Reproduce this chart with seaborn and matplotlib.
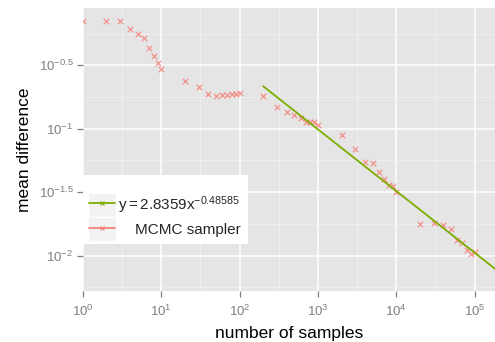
import numpy as np
import pandas as pd
import matplotlib
matplotlib.use("Agg")
import matplotlib.pyplot as plt
import seaborn as sns
from matplotlib.lines import Line2D
from matplotlib.patches import Rectangle
from matplotlib.legend_handler import HandlerLine2D
from matplotlib.ticker import FixedLocator, FixedFormatter

# ---- data ----
n_samples = [1, 2, 3, 4, 5, 6, 7, 8, 9,
             10, 20, 30, 40, 50, 60, 70, 80, 90,
             100, 200, 300, 400, 500, 600, 700, 800, 900,
             1000, 2000, 3000, 4000, 5000, 6000, 7000, 8000, 9000,
             10000, 20000, 30000, 40000, 50000, 60000, 70000, 80000, 90000,
             100000]
mean_diff = [0.7015, 0.7015, 0.7015, 0.6067, 0.5546, 0.5164, 0.4305, 0.3724, 0.3296,
             0.2944, 0.2377, 0.2123, 0.1871, 0.1803, 0.1837, 0.1837, 0.1871, 0.1871,
             0.1905, 0.1803, 0.1476, 0.1349, 0.1276, 0.1211, 0.1138, 0.1132, 0.1132,
             0.1064, 0.0889, 0.0690, 0.0544, 0.0535, 0.0454, 0.0405, 0.0359, 0.0356,
             0.0316, 0.0177, 0.0182, 0.0176, 0.0162, 0.0132, 0.0125, 0.0110, 0.0103,
             0.0106]
fit_a = 2.8359
fit_b = -0.48585
fit_x = [200, 1000, 10000, 100000, 1000000]
fit_y = [fit_a * v ** fit_b for v in fit_x]

x_ticks = [1, 10, 100, 1000, 10000, 100000]
x_labels = [r"$\mathregular{10^{0}}$", r"$\mathregular{10^{1}}$", r"$\mathregular{10^{2}}$",
            r"$\mathregular{10^{3}}$", r"$\mathregular{10^{4}}$", r"$\mathregular{10^{5}}$"]
y_ticks = [10 ** -0.5, 10 ** -1, 10 ** -1.5, 10 ** -2]
y_labels = [r"$\mathregular{10^{-0.5}}$", r"$\mathregular{10^{-1}}$",
            r"$\mathregular{10^{-1.5}}$", r"$\mathregular{10^{-2}}$"]
fit_label = r"$\mathregular{y = 2.8359x^{-0.48585}}$"
mcmc_label = "    MCMC sampler"

pts = pd.DataFrame({"n": n_samples, "d": mean_diff})
fit = pd.DataFrame({"n": fit_x, "d": fit_y})

# ---- style ----
sns.set_theme(style="darkgrid", rc={
    "axes.facecolor": "#E5E5E5",
    "grid.color": "white",
})
plt.rcParams["font.family"] = ["Liberation Sans", "DejaVu Sans"]
plt.rcParams["mathtext.fontset"] = "custom"
plt.rcParams["mathtext.rm"] = "Liberation Sans"
plt.rcParams["mathtext.it"] = "Liberation Sans:italic"

fig = plt.figure(figsize=(4.95, 3.42), dpi=100)
ax = fig.add_axes([82.5 / 495, 1 - 291 / 342, 1 - 82.5 / 495, 283 / 342])

PINK = "#F8766D"
GREEN = "#7CAE00"

sns.scatterplot(data=pts, x="n", y="d", marker="x", color=PINK, s=16,
                linewidth=0.9, alpha=0.75, ax=ax, legend=False, zorder=3, clip_on=True)
sns.lineplot(data=fit, x="n", y="d", color=GREEN, linewidth=1.3, ax=ax,
             legend=False, zorder=4)

ax.set_xscale("log")
ax.set_yscale("log")
ax.set_xlim(10 ** -0.005, 10 ** 5.26)
ax.set_ylim(10 ** -2.278, 10 ** -0.049)

ax.xaxis.set_major_locator(FixedLocator(x_ticks))
ax.xaxis.set_major_formatter(FixedFormatter(x_labels))
ax.xaxis.set_minor_locator(FixedLocator([10 ** (k + 0.5) for k in range(-1, 6)]))
ax.yaxis.set_major_locator(FixedLocator(y_ticks))
ax.yaxis.set_major_formatter(FixedFormatter(y_labels))
ax.yaxis.set_minor_locator(FixedLocator([10 ** (-0.25 - 0.5 * k) for k in range(-1, 6)]))
ax.xaxis.set_minor_formatter(FixedFormatter([]))
ax.yaxis.set_minor_formatter(FixedFormatter([]))

ax.grid(which="major", color="white", linewidth=1.1)
ax.grid(which="minor", color="#F2F2F2", linewidth=0.5)
for s in ax.spines.values():
    s.set_visible(False)

ax.tick_params(which="major", length=4, width=0.9, color="#7F7F7F",
               labelcolor="#7F7F7F", labelsize=9.5, bottom=True, left=True)
ax.tick_params(axis="x", which="major", pad=5)
ax.tick_params(axis="y", which="major", pad=2.5)
ax.tick_params(which="minor", length=0, width=0)

ax.set_xlabel("number of samples", fontsize=12.5, color="black", labelpad=5)
ax.set_ylabel("mean difference", fontsize=12.5, color="black", labelpad=5)


class KeyHandler(HandlerLine2D):
    def create_artists(self, legend, orig_handle, xdescent, ydescent, width, height,
                       fontsize, trans):
        bg = Rectangle((-xdescent - 1, -ydescent - 3), width + 2, height + 6,
                       facecolor="#F2F2F2", edgecolor="white", linewidth=1,
                       transform=trans)
        arts = super().create_artists(legend, orig_handle, xdescent, ydescent,
                                      width, height, fontsize, trans)
        return [bg] + list(arts)


h_fit = Line2D([], [], color=GREEN, linewidth=1.3, marker="x", markersize=3.5,
               markeredgewidth=0.8)
h_mcmc = Line2D([], [], color=PINK, linewidth=1.3, marker="x", markersize=3.5,
                markeredgewidth=0.8, alpha=0.9)
leg = ax.legend(handles=[h_fit, h_mcmc], labels=[fit_label, mcmc_label],
                loc="lower left", bbox_to_anchor=(0.0, 0.166), borderaxespad=0,
                frameon=True, fancybox=False, facecolor="white", edgecolor="white",
                framealpha=1, fontsize=11, handlelength=1.65, handleheight=1.2,
                handletextpad=0.25, labelspacing=0.35, borderpad=0.45,
                title=" ", title_fontsize=5,
                handler_map={Line2D: KeyHandler(numpoints=1)})
leg.get_frame().set_linewidth(0)

fig.savefig("out.png", dpi=100)
